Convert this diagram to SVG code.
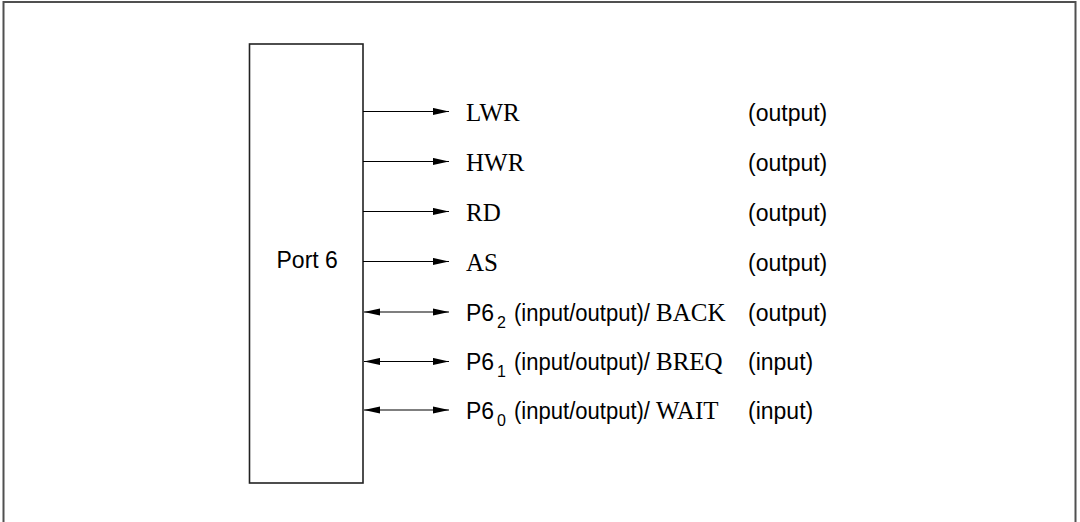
<svg xmlns="http://www.w3.org/2000/svg" width="1080" height="522" viewBox="0 0 1080 522">
<style>
.frame{fill:none;stroke:#505050;stroke-width:2}
.box{fill:#fff;stroke:#222;stroke-width:1.6}
.conn{stroke:#000;stroke-width:1.2;fill:none}
.sans{font-family:"Liberation Sans",Arial,sans-serif;font-size:23px;fill:#000}
.serif{font-family:"Liberation Serif","Times New Roman",serif;font-size:25px;fill:#000}
.sub{font-size:16px}
</style>
<defs>
<marker id="ah" viewBox="0 0 16 8" refX="16" refY="4" markerWidth="16" markerHeight="8" markerUnits="userSpaceOnUse" orient="auto-start-reverse">
<path d="M0,0.4 L16,4 L0,7.6 Z" fill="#000"/>
</marker>
</defs>
<rect width="1080" height="522" fill="#fff"/>
<path class="frame" d="M3.5,530 V2 H1075.5 V530"/>
<g id="port6">
<rect class="box" x="249.5" y="44" width="113.5" height="439"/>
<text class="sans" x="276.5" y="268">Port 6</text>
</g>
<g id="connectors">
<line class="conn" x1="363" y1="111.5" x2="449" y2="111.5" marker-end="url(#ah)"/>
<line class="conn" x1="363" y1="161.5" x2="449" y2="161.5" marker-end="url(#ah)"/>
<line class="conn" x1="363" y1="211.5" x2="449" y2="211.5" marker-end="url(#ah)"/>
<line class="conn" x1="363" y1="261.5" x2="449" y2="261.5" marker-end="url(#ah)"/>
<line class="conn" x1="364" y1="312" x2="449" y2="312" marker-start="url(#ah)" marker-end="url(#ah)"/>
<line class="conn" x1="364" y1="361.5" x2="449" y2="361.5" marker-start="url(#ah)" marker-end="url(#ah)"/>
<line class="conn" x1="364" y1="410" x2="449" y2="410" marker-start="url(#ah)" marker-end="url(#ah)"/>
</g>
<g id="lwr">
<text class="serif" x="466" y="121">LWR</text>
<text class="sans" x="748" y="121">(output)</text>
</g>
<g id="hwr">
<text class="serif" x="466" y="171">HWR</text>
<text class="sans" x="748" y="171">(output)</text>
</g>
<g id="rd">
<text class="serif" x="466" y="221">RD</text>
<text class="sans" x="748" y="221">(output)</text>
</g>
<g id="as">
<text class="serif" x="466" y="271">AS</text>
<text class="sans" x="748" y="271">(output)</text>
</g>
<g id="p62">
<text class="sans" x="466" y="321">P6<tspan class="sub" x="497" dy="7">2</tspan></text>
<text class="sans" x="514" y="321" textLength="136" lengthAdjust="spacingAndGlyphs">(input/output)/</text>
<text class="serif" x="656" y="321">BACK</text>
<text class="sans" x="748" y="321">(output)</text>
</g>
<g id="p61">
<text class="sans" x="466" y="370">P6<tspan class="sub" x="497" dy="7">1</tspan></text>
<text class="sans" x="514" y="370" textLength="136" lengthAdjust="spacingAndGlyphs">(input/output)/</text>
<text class="serif" x="656" y="370">BREQ</text>
<text class="sans" x="748" y="370">(input)</text>
</g>
<g id="p60">
<text class="sans" x="466" y="419">P6<tspan class="sub" x="497" dy="7">0</tspan></text>
<text class="sans" x="514" y="419" textLength="136" lengthAdjust="spacingAndGlyphs">(input/output)/</text>
<text class="serif" x="656" y="419">WAIT</text>
<text class="sans" x="748" y="419">(input)</text>
</g>
</svg>
